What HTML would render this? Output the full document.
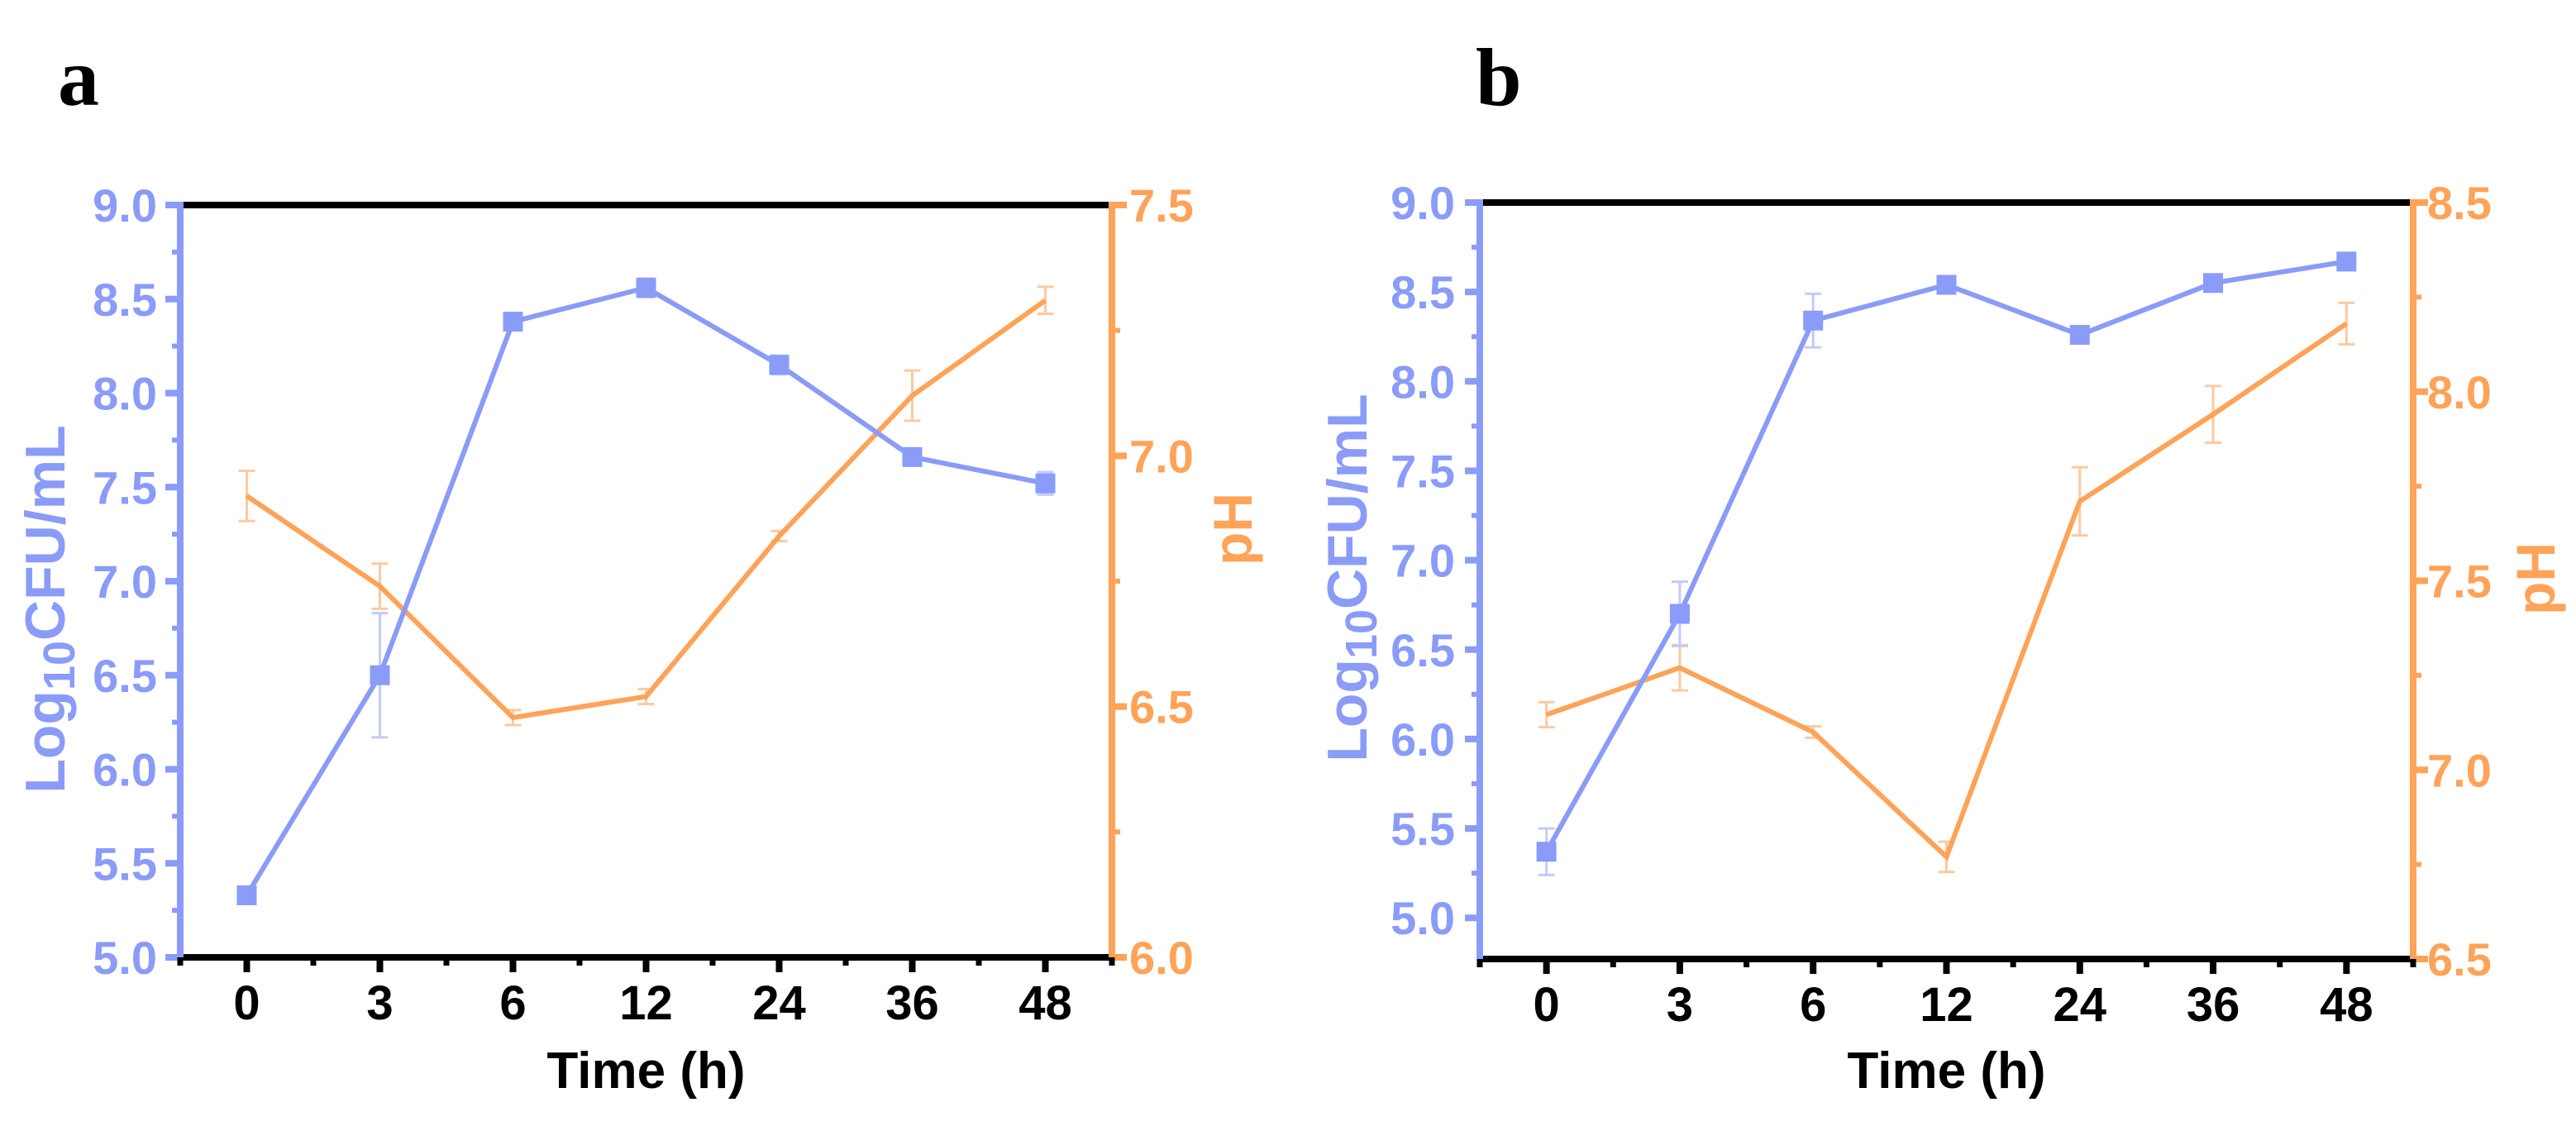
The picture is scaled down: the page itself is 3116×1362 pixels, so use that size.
<!DOCTYPE html>
<html><head><meta charset="utf-8"><style>
html,body{margin:0;padding:0;background:#fff;}
svg{display:block;}
text{font-family:"Liberation Sans",Arial,sans-serif;font-weight:bold;}
</style></head><body>
<svg id="fig" width="3116" height="1362" viewBox="0 0 3116 1362" xmlns="http://www.w3.org/2000/svg"></svg>
<script>
const categories = ["0","3","6","12","24","36","48"];
const cfuA = [5.33, 6.50, 8.38, 8.56, 8.15, 7.66, 7.52];
const cfuAErr = [0.03, 0.33, 0.03, 0.05, 0.05, 0.02, 0.06];
const phA = [6.92, 6.74, 6.478, 6.52, 6.84, 7.12, 7.31];
const phAErr = [0.05, 0.045, 0.015, 0.015, 0.01, 0.05, 0.027];
const cfuB = [5.37, 6.70, 8.34, 8.54, 8.26, 8.55, 8.67];
const cfuBErr = [0.13, 0.18, 0.15, 0.02, 0.02, 0.02, 0.02];
const phB = [7.146, 7.27, 7.10, 6.77, 7.71, 7.94, 8.18];
const phBErr = [0.033, 0.06, 0.015, 0.04, 0.09, 0.075, 0.055];
const leftTicks = ["5.0","5.5","6.0","6.5","7.0","7.5","8.0","8.5","9.0"];
const rightTicksA = ["6.0","6.5","7.0","7.5"];
const rightTicksB = ["6.5","7.0","7.5","8.0","8.5"];

const NS = "http://www.w3.org/2000/svg";
const svg = document.getElementById('fig');
const BLUE = "#8a9bf8", ORANGE = "#ffa359";
function mk(tag, attrs, parent){
  const e = document.createElementNS(NS, tag);
  for (const k in attrs) e.setAttribute(k, attrs[k]);
  (parent||svg).appendChild(e);
  return e;
}
function panel(cfg){
  const g = mk('g', {});
  
  
  const L=cfg.L, R=cfg.R, T=cfg.T, B=cfg.B;
  const step = (R-L)/7;
  const x = i => L + step*(i+0.5);
  const yL = v => B - (v - cfg.yMin)/(cfg.yMax - cfg.yMin)*(B-T);
  const yR = v => B - (v - cfg.pMin)/(cfg.pMax - cfg.pMin)*(B-T);
  const lt = mk('text', {x:cfg.letterX, y:127, 'font-size':100, fill:'#000', style:'font-family:"Liberation Serif",serif;font-weight:bold'}, g);
  lt.textContent = cfg.id;
  
  
  leftTicks.forEach(t => {
    const v = parseFloat(t), yy = yL(v);
    if (yy < T-1 || yy > B+1) return;
    mk('line', {x1:L-18, x2:L, y1:yy, y2:yy, stroke:BLUE, 'stroke-width':8}, g);
    const tx = mk('text', {x:cfg.leftLabX, y:yy+20, 'font-size':56, fill:BLUE, 'text-anchor':'end'}, g);
    tx.textContent = t;
    
    
    const ym = yL(v + 0.25);
    if (ym > T+2) mk('line', {x1:L-10, x2:L, y1:ym, y2:ym, stroke:BLUE, 'stroke-width':6}, g);
  });
  cfg.rightTicks.forEach(t => {
    const v = parseFloat(t), yy = yR(v);
    mk('line', {x1:R, x2:R+18, y1:yy, y2:yy, stroke:ORANGE, 'stroke-width':8}, g);
    const tx = mk('text', {x:cfg.rightLabX, y:yy+20, 'font-size':56, fill:ORANGE}, g);
    tx.textContent = t;
    
    
    const ym = yR(v + 0.25);
    if (ym > T+2) mk('line', {x1:R, x2:R+10, y1:ym, y2:ym, stroke:ORANGE, 'stroke-width':6}, g);
  });
  categories.forEach((c, i) => {
    mk('line', {x1:x(i), x2:x(i), y1:B, y2:B+18, stroke:'#000', 'stroke-width':8}, g);
    mk('line', {x1:x(i)-step/2, x2:x(i)-step/2, y1:B, y2:B+10, stroke:'#000', 'stroke-width':7}, g);
    const tx = mk('text', {x:x(i), y:B+75, 'font-size':58, fill:'#000', 'text-anchor':'middle'}, g);
    tx.textContent = c;
    
    
  });
  mk('line', {x1:R, x2:R, y1:B, y2:B+10, stroke:'#000', 'stroke-width':7}, g);
  mk('line', {x1:L, x2:R, y1:T, y2:T, stroke:'#000', 'stroke-width':8}, g);
  mk('line', {x1:L, x2:R, y1:B, y2:B, stroke:'#000', 'stroke-width':8}, g);
  mk('line', {x1:L, x2:L, y1:T-4, y2:B, stroke:BLUE, 'stroke-width':8}, g);
  mk('line', {x1:R, x2:R, y1:T-4, y2:B, stroke:ORANGE, 'stroke-width':8}, g);
  const xt = mk('text', {x:(L+R)/2, y:1316, 'font-size':62, fill:'#000', 'text-anchor':'middle'}, g);
  xt.textContent = 'Time (h)';
  
  
  const lt2 = mk('text', {x:0, y:0, 'font-size':68, fill:BLUE, 'text-anchor':'middle', transform:`translate(${cfg.ltX+24},${cfg.ltY}) rotate(-90)`}, g);
  lt2.innerHTML = 'Log<tspan font-size="54" dy="12">10</tspan><tspan dy="-12">CFU/mL</tspan>';
  
  
  const rt = mk('text', {x:0, y:0, 'font-size':66, fill:ORANGE, 'text-anchor':'middle', transform:`translate(${cfg.rtX+24},${cfg.rtY}) rotate(-90)`}, g);
  rt.textContent = 'pH';
  
  
  cfg.ph.forEach((v,i) => {
    const e = cfg.phErr[i];
    mk('line', {x1:x(i), x2:x(i), y1:yR(v-e), y2:yR(v+e), stroke:'#ffc9a0', 'stroke-width':3}, g);
    [v-e, v+e].forEach(w => mk('line', {x1:x(i)-10, x2:x(i)+10, y1:yR(w), y2:yR(w), stroke:'#ffc9a0', 'stroke-width':3}, g));
  });
  const pl = mk('polyline', {points:cfg.ph.map((v,i)=>x(i)+','+yR(v)).join(' '), fill:'none', stroke:ORANGE, 'stroke-width':6}, g);
  
  
  cfg.cfu.forEach((v,i) => {
    const e = cfg.cfuErr[i];
    mk('line', {x1:x(i), x2:x(i), y1:yL(v-e), y2:yL(v+e), stroke:'#c3cbfb', 'stroke-width':3}, g);
    [v-e, v+e].forEach(w => mk('line', {x1:x(i)-10, x2:x(i)+10, y1:yL(w), y2:yL(w), stroke:'#c3cbfb', 'stroke-width':3}, g));
  });
  const cl = mk('polyline', {points:cfg.cfu.map((v,i)=>x(i)+','+yL(v)).join(' '), fill:'none', stroke:BLUE, 'stroke-width':6}, g);
  
  
  cfg.cfu.forEach((v,i) => {
    const r = mk('rect', {x:x(i)-12, y:yL(v)-12, width:24, height:24, fill:BLUE}, g);
    
    
  });
}
panel({id:'a', L:218, R:1345, T:248, B:1158, yMin:5.0, yMax:9.0, pMin:6.0, pMax:7.5,
  cfu:cfuA, cfuErr:cfuAErr, ph:phA, phErr:phAErr, rightTicks:rightTicksA,
  letterX:70, leftLabX:190, rightLabX:1366, ltX:54, ltY:737, rtX:1490, rtY:640});
panel({id:'b', L:1790, R:2919, T:245, B:1160, yMin:4.77, yMax:9.0, pMin:6.5, pMax:8.5,
  cfu:cfuB, cfuErr:cfuBErr, ph:phB, phErr:phBErr, rightTicks:rightTicksB,
  letterX:1785, leftLabX:1760, rightLabX:2936, ltX:1629, ltY:699, rtX:3066, rtY:700});
</script>
</body></html>
